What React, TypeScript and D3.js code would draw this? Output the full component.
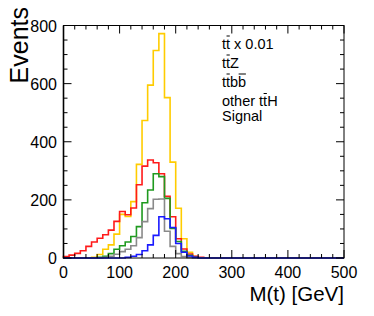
import React, { Component } from 'react'
import * as d3 from 'd3'

// 10 GeV bins starting at 0; bins above 250 GeV are empty
const binWidth = 10
const nBins = 50
const ttbarScaled = [0, 0, 0, 0, 0, 2, 12, 30, 45, 82, 150, 143, 194, 322, 473, 595, 714, 772, 552, 330, 171, 66, 20, 5, 1]
const ttZ = [5, 10, 16, 25, 40, 55, 68, 80, 96, 126, 160, 149, 172, 252, 316, 337, 328, 290, 212, 142, 66, 31, 14, 6, 2]
const ttbb = [0, 0, 0, 0, 0, 0, 2, 6, 15, 30, 42, 55, 74, 108, 190, 234, 290, 280, 205, 102, 57, 23, 9, 2, 0]
const otherTtH = [0, 0, 0, 0, 0, 0, 0, 2, 6, 13, 22, 30, 42, 70, 125, 170, 202, 203, 92, 40, 15, 5, 1, 0, 0]
const signal = [0, 0, 0, 0, 0, 0, 0, 0, 0, 0, 0, 2, 6, 12, 25, 45, 78, 142, 135, 105, 50, 20, 7, 2, 0]

const xTicks = [0, 100, 200, 300, 400, 500]
const yTicks = [0, 200, 400, 600, 800]

// legend entries: pieces of text, true = barred character
const legendEntries: [string, boolean][][] = [
  [['t', false], ['t', true], [' x 0.01', false]],
  [['t', false], ['t', true], ['Z', false]],
  [['t', false], ['t', true], ['b', false], ['b', true]],
  [['other t', false], ['t', true], ['H', false]],
  [['Signal', false]],
]

const series = [
  { values: ttbarScaled, color: '#ffcc00' },
  { values: ttZ, color: '#ff1a1a' },
  { values: ttbb, color: '#1f9a1f' },
  { values: otherTtH, color: '#8a8a8a' },
  { values: signal, color: '#1a1aff' },
]

class App extends Component {
  node: SVGSVGElement | null = null

  componentDidMount() {
    this.draw()
  }

  draw() {
    const width = 374,
      height = 316,
      left = 63.5,
      right = 344,
      top = 25.5,
      bottom = 258
    const font = 'Liberation Sans, Arial, sans-serif'

    const x = d3.scaleLinear().domain([0, 500]).range([left, right])
    const y = d3.scaleLinear().domain([0, 800]).range([bottom, top])

    const svg = d3.select(this.node)
    svg.selectAll('*').remove()
    svg.attr('width', width).attr('height', height)

    svg.append('rect').attr('width', width).attr('height', height).attr('fill', '#fff')

    // histograms as step outlines
    const line = d3
      .line<[number, number]>()
      .x((d) => x(d[0]))
      .y((d) => y(d[1]))
      .curve(d3.curveStepAfter)

    series.forEach((s) => {
      const pts: [number, number][] = [[0, 0]]
      for (let i = 0; i < nBins; i++) pts.push([i * binWidth, s.values[i] ?? 0])
      pts.push([nBins * binWidth, 0])
      svg
        .append('path')
        .attr('d', line(pts))
        .style('fill', 'none')
        .style('stroke', s.color)
        .style('stroke-width', 1.6)
    })

    // frame
    svg
      .append('rect')
      .attr('x', left)
      .attr('y', top)
      .attr('width', right - left)
      .attr('height', bottom - top)
      .style('fill', 'none')
      .style('stroke', '#000')
      .style('stroke-width', 1)
    svg.append('line').attr('x1', left).attr('x2', left).attr('y1', top).attr('y2', bottom + 0.5)
      .style('stroke', '#000').style('stroke-width', 1.6)

    // ticks, inward on all four sides
    const tickG = svg.append('g').style('stroke', '#000').style('stroke-width', 1)
    d3.range(0, 501, 20).forEach((v) => {
      const len = v % 100 === 0 ? 8 : 4
      tickG.append('line').attr('x1', x(v)).attr('x2', x(v)).attr('y1', bottom).attr('y2', bottom - len)
      tickG.append('line').attr('x1', x(v)).attr('x2', x(v)).attr('y1', top).attr('y2', top + len)
    })
    d3.range(0, 801, 50).forEach((v) => {
      const len = v % 200 === 0 ? 8 : 4
      tickG.append('line').attr('x1', left).attr('x2', left + len).attr('y1', y(v)).attr('y2', y(v))
      tickG.append('line').attr('x1', right).attr('x2', right - len).attr('y1', y(v)).attr('y2', y(v))
    })

    // tick labels
    svg
      .selectAll('text.xl')
      .data(xTicks)
      .enter()
      .append('text')
      .attr('class', 'xl')
      .attr('x', (d) => x(d))
      .attr('y', 278)
      .attr('text-anchor', 'middle')
      .style('font-family', font)
      .style('font-size', '16px')
      .text((d) => d)

    svg
      .selectAll('text.yl')
      .data(yTicks)
      .enter()
      .append('text')
      .attr('class', 'yl')
      .attr('x', 57)
      .attr('y', (d) => y(d) + 6)
      .attr('text-anchor', 'end')
      .style('font-family', font)
      .style('font-size', '16px')
      .text((d) => d)

    // axis titles
    svg
      .append('text')
      .attr('x', right)
      .attr('y', 301)
      .attr('text-anchor', 'end')
      .style('font-family', font)
      .style('font-size', '20.5px')
      .text('M(t) [GeV]')

    svg
      .append('text')
      .attr('transform', 'translate(28,7) rotate(-90)')
      .attr('text-anchor', 'end')
      .style('font-family', font)
      .style('font-size', '25px')
      .text('Events')

    // legend (text only, bars drawn over the anti-quark letters)
    const baselines = [48.5, 67.5, 86.5, 106, 121]
    const legX = 222
    legendEntries.forEach((parts, i) => {
      const full = parts.map((p) => p[0]).join('')
      const t = svg
        .append('text')
        .attr('x', legX)
        .attr('y', baselines[i])
        .style('font-family', font)
        .style('font-size', '14.5px')
        .text(full)
      const el = t.node() as SVGTextElement
      let idx = 0
      parts.forEach((p) => {
        if (p[1]) {
          const x0 = idx > 0 ? el.getSubStringLength(0, idx) : 0
          const w = el.getSubStringLength(idx, p[0].length)
          svg
            .append('line')
            .attr('x1', legX + x0 + 0.5)
            .attr('x2', legX + x0 + w - 0.3)
            .attr('y1', baselines[i] - 12.5)
            .attr('y2', baselines[i] - 12.5)
            .style('stroke', '#000')
            .style('stroke-width', 1)
        }
        idx += p[0].length
      })
    })
  }

  render() {
    return (
      <svg
        ref={(node) => {
          this.node = node
        }}
        style={{ position: 'absolute', left: 0, top: 0 }}
      ></svg>
    )
  }
}

export default App
